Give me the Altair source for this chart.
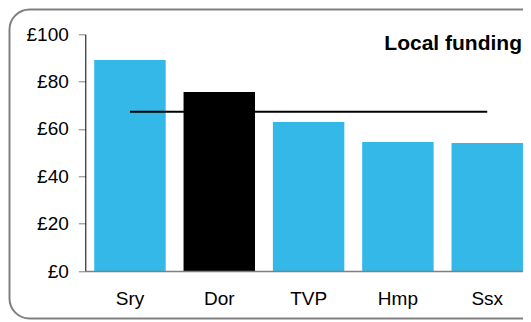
import altair as alt
import pandas as pd

# ---- data ----
categories = ["Sry", "Dor", "TVP", "Hmp", "Ssx"]
funding = [89.1, 75.6, 62.9, 54.5, 54.1]
average = [67.3, 67.3, 67.3, 67.3, 67.3]
group = ["Other", "Dor", "Other", "Other", "Other"]
y_ticks = [0, 20, 40, 60, 80, 100]
title_text = ["Local funding"]

df = pd.DataFrame({"area": categories, "funding": funding,
                   "average": average, "group": group})

W = 446.6
H = 236.7
FONT = "Liberation Sans"

x_enc = alt.X(
    "area:N", sort=categories,
    scale=alt.Scale(paddingInner=0.2, paddingOuter=0.1),
    axis=alt.Axis(title=None, labelAngle=0, ticks=False, tickSize=0,
                  domainColor="#808080", domainWidth=1.5,
                  labelFontSize=19, labelFont=FONT, labelColor="black",
                  labelPadding=18.5, zindex=1),
)
y_enc = alt.Y(
    "funding:Q",
    scale=alt.Scale(domain=[0, 100], nice=False),
    axis=alt.Axis(title=None, values=y_ticks, labelExpr="'£' + datum.value",
                  grid=False, domainColor="black", domainWidth=1,
                  tickColor="#808080", tickSize=7, tickWidth=1,
                  labelFontSize=19, labelFont=FONT, labelColor="black",
                  labelPadding=10),
)

border = alt.Chart(pd.DataFrame({"k": [0]})).mark_rect(
    fillOpacity=0, stroke="#808080", strokeWidth=2, cornerRadius=20, clip=False
).encode(
    x=alt.value(-75.8), x2=alt.value(W + 20),
    y=alt.value(-24.8), y2=alt.value(284.2),
)

bars = alt.Chart(df).mark_bar().encode(
    x=x_enc,
    y=y_enc,
    color=alt.Color("group:N",
                    scale=alt.Scale(domain=["Other", "Dor"],
                                    range=["#33b8e8", "#000000"]),
                    legend=None),
)

avg_line = alt.Chart(df).mark_line(color="black", strokeWidth=2).encode(
    x=alt.X("area:N", sort=categories),
    y=alt.Y("average:Q"),
)

title = alt.Chart(pd.DataFrame({"t": title_text})).mark_text(
    align="right", baseline="alphabetic", font=FONT, fontSize=21,
    fontWeight="bold", color="black",
).encode(text="t:N", x=alt.value(W - 9.9), y=alt.value(15.7))

chart = alt.layer(border, bars, avg_line, title).properties(
    width=W, height=H,
    autosize=alt.AutoSizeParams(type="none"),
    padding={"left": 77.3, "top": 26.3, "right": -8.9, "bottom": 51},
).configure_view(stroke=None)

chart.save("out.html", embed_options={"renderer": "svg", "actions": False})
